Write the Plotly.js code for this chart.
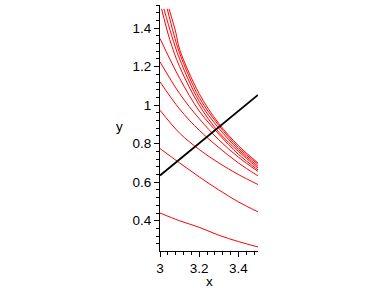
<!DOCTYPE html>
<html>
<head>
<meta charset="utf-8">
<script src="https://cdn.plot.ly/plotly-3.0.1.min.js"></script>
<style>html,body{margin:0;padding:0;background:#fff;}#chart{width:388px;height:288px;}</style>
</head>
<body>
<div id="chart"></div>
<script>
// Red curve family (x values and y values)
var c1x = [3.0, 3.1, 3.2, 3.3, 3.4, 3.5];
var c1y = [0.44, 0.40, 0.366, 0.325, 0.292, 0.264];
var c2x = [3.0, 3.1, 3.2, 3.3, 3.4, 3.5];
var c2y = [0.775, 0.70, 0.628, 0.56, 0.498, 0.446];
var c3x = [3.0, 3.1, 3.2, 3.3, 3.4, 3.5];
var c3y = [0.974, 0.855, 0.77, 0.70, 0.64, 0.588];
var c4x = [3.0, 3.1, 3.2, 3.3, 3.4, 3.5];
var c4y = [1.121, 0.98, 0.87, 0.78, 0.70, 0.633];
var c5x = [3.0, 3.1, 3.2, 3.3, 3.4, 3.5];
var c5y = [1.225, 1.06, 0.93, 0.82, 0.73, 0.656];
var c6x = [3.0, 3.1, 3.2, 3.3, 3.4, 3.5];
var c6y = [1.346, 1.14, 0.97, 0.85, 0.745, 0.664];
var c7x = [3.008, 3.05, 3.1, 3.2, 3.3, 3.4, 3.5];
var c7y = [1.50, 1.34, 1.20, 1.00, 0.86, 0.76, 0.674];
var c8x = [3.02, 3.06, 3.1, 3.2, 3.3, 3.4, 3.5];
var c8y = [1.50, 1.36, 1.24, 1.02, 0.88, 0.77, 0.683];
var c9x = [3.037, 3.07, 3.1, 3.2, 3.3, 3.4, 3.5];
var c9y = [1.50, 1.37, 1.27, 1.04, 0.895, 0.78, 0.693];
var c10x = [3.046, 3.08, 3.1, 3.2, 3.3, 3.4, 3.5];
var c10y = [1.50, 1.38, 1.29, 1.06, 0.905, 0.79, 0.70];
// Black straight line
var lineX = [3.0, 3.5];
var lineY = [0.635, 1.053];

var xTickVals = [3, 3.2, 3.4];
var xTickText = ['3', '3.2', '3.4'];
var yTickVals = [0.4, 0.6, 0.8, 1, 1.2, 1.4];
var yTickText = ['0.4', '0.6', '0.8', '1', '1.2', '1.4'];

var curves = [[c1x,c1y],[c2x,c2y],[c3x,c3y],[c4x,c4y],[c5x,c5y],[c6x,c6y],[c7x,c7y],[c8x,c8y],[c9x,c9y],[c10x,c10y]];
var traces = curves.map(function(c){
  return {x: c[0], y: c[1], type: 'scatter', mode: 'lines',
          line: {color: '#ff0000', width: 1, shape: 'spline', smoothing: 1},
          hoverinfo: 'skip', showlegend: false};
});
traces.push({x: lineX, y: lineY, type: 'scatter', mode: 'lines',
  line: {color: '#000000', width: 1.8}, showlegend: false});

var font = {family: 'Liberation Sans, Arial, sans-serif', size: 13.5, color: '#000'};
var layout = {
  width: 388, height: 288,
  margin: {l: 160, r: 130, t: 5, b: 37, pad: 0},
  paper_bgcolor: '#fff', plot_bgcolor: '#fff',
  showlegend: false,
  font: font,
  xaxis: {
    range: [3, 3.5], tickvals: xTickVals, ticktext: xTickText,
    showgrid: false, zeroline: false, showline: true, linecolor: '#000', linewidth: 1,
    ticks: 'outside', ticklen: 5, tickcolor: '#000', tickfont: font,
    minor: {dtick: 0.04, tick0: 3, ticks: 'outside', ticklen: 3, tickcolor: '#000', showgrid: false}
  },
  yaxis: {
    range: [0.243, 1.52], tickvals: yTickVals, ticktext: yTickText,
    showgrid: false, zeroline: false, showline: true, linecolor: '#000', linewidth: 1,
    ticks: 'outside', ticklen: 5, tickcolor: '#000', tickfont: font,
    minor: {dtick: 0.04, tick0: 0.2, ticks: 'outside', ticklen: 3, tickcolor: '#000', showgrid: false}
  },
  annotations: [
    {text: 'x', xref: 'paper', yref: 'paper', x: 0.5, y: 0, yshift: -30, showarrow: false, font: font, xanchor: 'center', yanchor: 'middle'},
    {text: 'y', xref: 'paper', yref: 'paper', x: 0, y: 0.505, xshift: -41, showarrow: false, font: font, xanchor: 'center', yanchor: 'middle'}
  ]
};
Plotly.newPlot('chart', traces, layout, {staticPlot: true, displayModeBar: false});
</script>
</body>
</html>
